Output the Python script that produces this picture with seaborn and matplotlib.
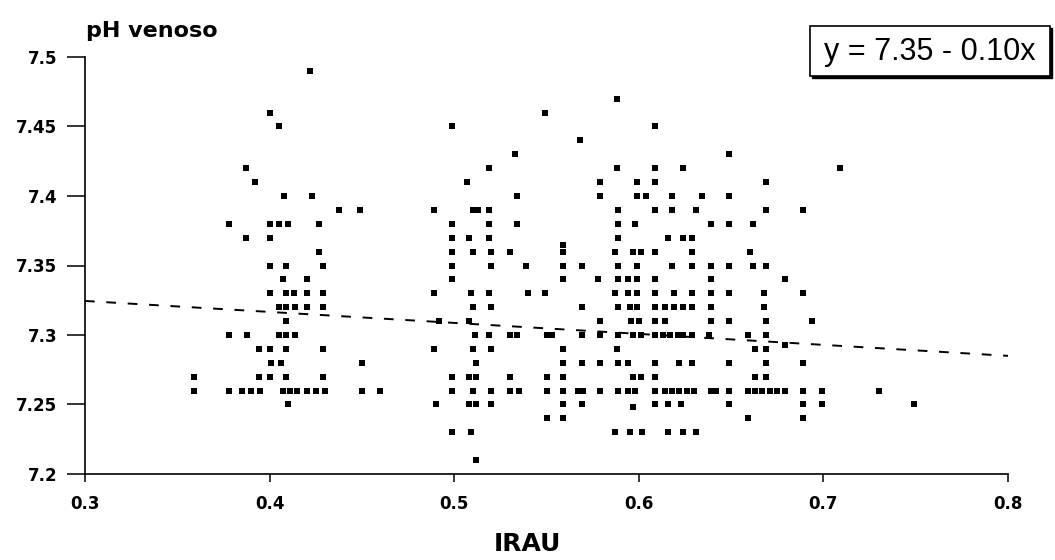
import matplotlib
matplotlib.use("Agg")
import matplotlib.pyplot as plt
from matplotlib.patches import Rectangle
import seaborn as sns
import pandas as pd

# grupo 1: IRAU ~0.36-0.46
irau_a = [0.400, 0.405, 0.422, 0.387, 0.392, 0.408, 0.423,
          0.4375, 0.449,
          0.378, 0.400, 0.405, 0.410, 0.427,
          0.387, 0.400,
          0.4265,
          0.400, 0.409, 0.429,
          0.407, 0.420,
          0.400, 0.409, 0.413, 0.420, 0.429,
          0.405, 0.409, 0.414, 0.420, 0.429,
          0.409,
          0.378, 0.388, 0.405, 0.409, 0.414,
          0.394, 0.400, 0.409, 0.429,
          0.401, 0.406, 0.450,
          0.359, 0.394, 0.400, 0.409, 0.429,
          0.359, 0.378, 0.385, 0.390, 0.395, 0.407, 0.411, 0.415, 0.420, 0.425, 0.430, 0.450, 0.460,
          0.410]
ph_a = [7.46, 7.45, 7.49, 7.42, 7.41, 7.40, 7.40,
        7.39, 7.39,
        7.38, 7.38, 7.38, 7.38, 7.38,
        7.37, 7.37,
        7.36,
        7.35, 7.35, 7.35,
        7.34, 7.34,
        7.33, 7.33, 7.33, 7.33, 7.33,
        7.32, 7.32, 7.32, 7.32, 7.32,
        7.31,
        7.30, 7.30, 7.30, 7.30, 7.30,
        7.29, 7.29, 7.29, 7.29,
        7.28, 7.28, 7.28,
        7.27, 7.27, 7.27, 7.27, 7.27,
        7.26, 7.26, 7.26, 7.26, 7.26, 7.26, 7.26, 7.26, 7.26, 7.26, 7.26, 7.26, 7.26,
        7.25]

# grupo 2: IRAU ~0.49-0.54
irau_b = [0.499, 0.533, 0.519, 0.507, 0.534,
          0.489, 0.510, 0.513, 0.519,
          0.499, 0.519, 0.534,
          0.499, 0.508, 0.519,
          0.499, 0.510, 0.520, 0.530,
          0.499, 0.520, 0.539,
          0.499,
          0.489, 0.509, 0.519, 0.540,
          0.510, 0.520,
          0.492, 0.508,
          0.511, 0.519, 0.530, 0.534,
          0.489, 0.510, 0.520,
          0.512,
          0.499, 0.508, 0.512, 0.530,
          0.499, 0.510, 0.520, 0.530, 0.535,
          0.490, 0.508, 0.512, 0.520,
          0.499, 0.509,
          0.512]
ph_b = [7.45, 7.43, 7.42, 7.41, 7.40,
        7.39, 7.39, 7.39, 7.39,
        7.38, 7.38, 7.38,
        7.37, 7.37, 7.37,
        7.36, 7.36, 7.36, 7.36,
        7.35, 7.35, 7.35,
        7.34,
        7.33, 7.33, 7.33, 7.33,
        7.32, 7.32,
        7.31, 7.31,
        7.30, 7.30, 7.30, 7.30,
        7.29, 7.29, 7.29,
        7.28,
        7.27, 7.27, 7.27, 7.27,
        7.26, 7.26, 7.26, 7.26, 7.26,
        7.25, 7.25, 7.25, 7.25,
        7.23, 7.23,
        7.21]

# grupo 3: IRAU ~0.55-0.675
irau_c = [0.588, 0.549, 0.609, 0.568, 0.649,
          0.588, 0.609, 0.624,
          0.579, 0.599, 0.609, 0.669,
          0.579, 0.599, 0.604, 0.618, 0.634, 0.649,
          0.589, 0.609, 0.618, 0.631, 0.669,
          0.589, 0.598, 0.639, 0.649, 0.662,
          0.589, 0.616, 0.624, 0.629,
          0.559, 0.559, 0.587, 0.597, 0.601, 0.609, 0.629, 0.660,
          0.559, 0.569, 0.589, 0.599, 0.618, 0.629, 0.639, 0.649, 0.662, 0.669,
          0.559, 0.578, 0.589, 0.594, 0.599, 0.609, 0.639,
          0.549, 0.587, 0.594, 0.599, 0.609, 0.619, 0.629, 0.639, 0.649, 0.668,
          0.569, 0.589, 0.595, 0.599, 0.609, 0.614, 0.619, 0.624, 0.629, 0.639, 0.668,
          0.579, 0.596, 0.600, 0.609, 0.614, 0.639, 0.649, 0.669,
          0.550, 0.553, 0.569, 0.579, 0.589, 0.597, 0.601, 0.609, 0.613, 0.617, 0.621, 0.624, 0.629, 0.638, 0.659, 0.669,
          0.559, 0.588, 0.663, 0.669,
          0.559, 0.569, 0.579, 0.589, 0.594, 0.609, 0.622, 0.629, 0.649, 0.669,
          0.550, 0.559, 0.597, 0.601, 0.609, 0.663, 0.669,
          0.550, 0.559, 0.567, 0.570, 0.579, 0.589, 0.594, 0.598, 0.609, 0.614, 0.618, 0.622, 0.626,
          0.630, 0.639, 0.642, 0.649, 0.659, 0.663, 0.667, 0.671, 0.675,
          0.559, 0.569, 0.609, 0.616, 0.623, 0.649,
          0.597,
          0.550, 0.559, 0.659,
          0.587, 0.595, 0.602, 0.616, 0.624, 0.631]
ph_c = [7.47, 7.46, 7.45, 7.44, 7.43,
        7.42, 7.42, 7.42,
        7.41, 7.41, 7.41, 7.41,
        7.40, 7.40, 7.40, 7.40, 7.40, 7.40,
        7.39, 7.39, 7.39, 7.39, 7.39,
        7.38, 7.38, 7.38, 7.38, 7.38,
        7.37, 7.37, 7.37, 7.37,
        7.365, 7.36, 7.36, 7.36, 7.36, 7.36, 7.36, 7.36,
        7.35, 7.35, 7.35, 7.35, 7.35, 7.35, 7.35, 7.35, 7.35, 7.35,
        7.34, 7.34, 7.34, 7.34, 7.34, 7.34, 7.34,
        7.33, 7.33, 7.33, 7.33, 7.33, 7.33, 7.33, 7.33, 7.33, 7.33,
        7.32, 7.32, 7.32, 7.32, 7.32, 7.32, 7.32, 7.32, 7.32, 7.32, 7.32,
        7.31, 7.31, 7.31, 7.31, 7.31, 7.31, 7.31, 7.31,
        7.30, 7.30, 7.30, 7.30, 7.30, 7.30, 7.30, 7.30, 7.30, 7.30, 7.30, 7.30, 7.30, 7.30, 7.30, 7.30,
        7.29, 7.29, 7.29, 7.29,
        7.28, 7.28, 7.28, 7.28, 7.28, 7.28, 7.28, 7.28, 7.28, 7.28,
        7.27, 7.27, 7.27, 7.27, 7.27, 7.27, 7.27,
        7.26, 7.26, 7.26, 7.26, 7.26, 7.26, 7.26, 7.26, 7.26, 7.26, 7.26, 7.26, 7.26,
        7.26, 7.26, 7.26, 7.26, 7.26, 7.26, 7.26, 7.26, 7.26,
        7.25, 7.25, 7.25, 7.25, 7.25, 7.25,
        7.248,
        7.24, 7.24, 7.24,
        7.23, 7.23, 7.23, 7.23, 7.23, 7.23]

# grupo 4: IRAU > 0.675
irau_d = [0.709, 0.689, 0.679, 0.689, 0.694, 0.679, 0.689,
          0.679, 0.689, 0.699, 0.730,
          0.689, 0.699, 0.749,
          0.689]
ph_d = [7.42, 7.39, 7.34, 7.33, 7.31, 7.293, 7.28,
        7.26, 7.26, 7.26, 7.26,
        7.25, 7.25, 7.25,
        7.24]

# reta de regressao (extremos)
reta_x = [0.3, 0.8]
reta_y = [7.3245, 7.285]

x_ticks = [0.3, 0.4, 0.5, 0.6, 0.7, 0.8]
x_labels = ["0.3", "0.4", "0.5", "0.6", "0.7", "0.8"]
y_ticks = [7.2, 7.25, 7.3, 7.35, 7.4, 7.45, 7.5]
y_labels = ["7.2", "7.25", "7.3", "7.35", "7.4", "7.45", "7.5"]

df = pd.DataFrame({
    "IRAU": irau_a + irau_b + irau_c + irau_d,
    "pH": ph_a + ph_b + ph_c + ph_d,
})

sns.set_style("ticks")
plt.rcParams["font.family"] = ["DejaVu Sans"]
plt.rcParams["text.color"] = "black"

W, H = 1055, 560
fig = plt.figure(figsize=(W / 100, H / 100), dpi=100)
ax = fig.add_axes([85 / W, 1 - 474 / H, (1008 - 85) / W, (474 - 57) / H])

sns.scatterplot(data=df, x="IRAU", y="pH", ax=ax, marker="s", s=22,
                color="black", linewidth=0, zorder=3)
ax.plot(reta_x, reta_y, color="black", lw=1.4, dashes=(5, 6), zorder=2)

ax.set_xlim(0.3, 0.8)
ax.set_ylim(7.2, 7.5)
ax.set_xticks(x_ticks)
ax.set_xticklabels(x_labels, fontsize=12, fontweight="bold")
ax.set_yticks(y_ticks)
ax.set_yticklabels(y_labels, fontsize=12, fontweight="bold")
ax.tick_params(axis="y", direction="out", length=13, width=1.1, pad=7, colors="black")
ax.tick_params(axis="x", direction="out", length=6, width=1.1, pad=9, colors="black")
ax.set_xlabel("")
ax.set_ylabel("")
for side in ["top", "right"]:
    ax.spines[side].set_visible(False)
for side in ["left", "bottom"]:
    ax.spines[side].set_linewidth(1.2)
    ax.spines[side].set_color("black")

fig.text(86 / W, 1 - 37 / H, "pH venoso", fontsize=16, fontweight="bold",
         color="black", ha="left", va="baseline")
fig.text(527 / W, 1 - 551 / H, "IRAU", fontsize=18, fontweight="bold",
         color="black", ha="center", va="baseline")

# caixa da equacao com sombra
fig.patches.append(Rectangle((812 / W, 1 - 78 / H), 240 / W, 50 / H,
                             transform=fig.transFigure, fc="black", ec="black"))
fig.patches.append(Rectangle((810 / W, 1 - 76 / H), 240 / W, 50 / H,
                             transform=fig.transFigure, fc="white", ec="black", lw=1.2))
fig.text(930 / W, 1 - 52 / H, "y = 7.35 - 0.10x", fontsize=22, color="black",
         family=["Liberation Sans", "DejaVu Sans"], ha="center", va="center")

fig.savefig("out.png", dpi=100)
